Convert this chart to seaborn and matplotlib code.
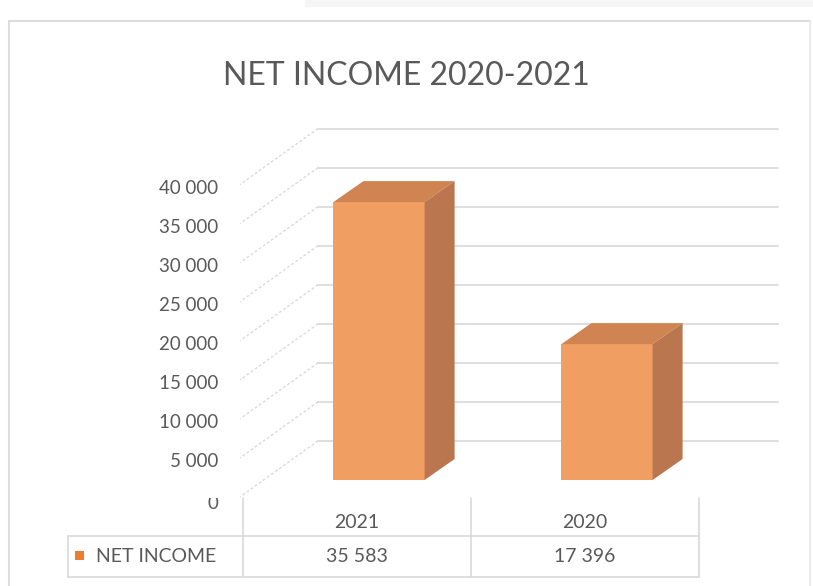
import matplotlib
matplotlib.use("Agg")
import matplotlib.pyplot as plt
from matplotlib.patches import Polygon, Rectangle
from matplotlib.transforms import blended_transform_factory, offset_copy
import seaborn as sns
import pandas as pd

# --- data -------------------------------------------------------------
years = ["2021", "2020"]
net_income = [35583, 17396]
series_name = "NET INCOME"
tick_values = [5000, 10000, 15000, 20000, 25000, 30000, 35000, 40000]
grid_values = [5000, 10000, 15000, 20000, 25000, 30000, 35000, 40000, 45000]
title = "NET INCOME 2020-2021"


def fmt(v):
    return f"{v:,}".replace(",", " ")


# --- style ------------------------------------------------------------
sns.set_theme(style="white")
plt.rcParams["font.family"] = ["Lato", "DejaVu Sans"]

TEXT = "#595959"
LINE = "#D9D9D9"
FRONT = "#F19E63"
TOP = "#CF8452"
SIDE = "#B9764F"
MARKER = "#ED7D31"

W, H = 813, 586
fig = plt.figure(figsize=(W / 100, H / 100), dpi=100)
fig.patch.set_facecolor("white")

# full-figure overlay in pixel units for frame and data table
ov = fig.add_axes([0, 0, 1, 1])
ov.set_xlim(0, W)
ov.set_ylim(H, 0)
ov.axis("off")

# main plotting axes (front face scale)
ax_l, ax_r, ax_t, ax_b = 230, 790, 110, 500
ax = fig.add_axes([ax_l / W, (H - ax_b) / H, (ax_r - ax_l) / W, (ax_b - ax_t) / H])
ax.patch.set_alpha(0)

df = pd.DataFrame({"year": years, "income": net_income})
sns.barplot(data=df, x="year", y="income", order=years, color=FRONT,
            saturation=1, width=0.40, ax=ax, zorder=3, linewidth=0)
ax.set_xlim(-0.6535, 1.8026)
ax.set_ylim(-2561, 47375)
ax.axis("off")

# depth of the 3D effect, in data units
dx, dv = 0.1316, 2689
wall_left, wall_right = -0.2675, 1.75
side_front_x, side_drop = -0.6096, 7170

# back wall gridlines and slanted side-wall lines
for v in grid_values:
    ax.plot([wall_left, wall_right], [v, v], color="#DEDEDE", lw=1.4,
            zorder=1, clip_on=False)
    ax.plot([wall_left, side_front_x], [v, v - side_drop], color="#DADADA",
            lw=1.0, ls=(0, (2, 1.6)), zorder=1, clip_on=False)

# top and side faces of each bar
for bar in ax.patches[:len(years)]:
    x0 = bar.get_x()
    x1 = x0 + bar.get_width()
    h = bar.get_height()
    ax.add_patch(Polygon([(x0, h), (x1, h), (x1 + dx, h + dv), (x0 + dx, h + dv)],
                         closed=True, facecolor=TOP, edgecolor="none", zorder=3))
    ax.add_patch(Polygon([(x1, 0), (x1, h), (x1 + dx, h + dv), (x1 + dx, dv)],
                         closed=True, facecolor=SIDE, edgecolor="none", zorder=3))

# value axis labels
lab_tr = offset_copy(blended_transform_factory(ax.transAxes, ax.transData),
                     fig=fig, y=-21, units="dots")
lab_x = (218 - ax_l) / (ax_r - ax_l)
for v in tick_values:
    ax.text(lab_x, v, fmt(v), transform=lab_tr, ha="right", va="center",
            fontsize=13.5, color=TEXT, clip_on=False)
zero_tr = offset_copy(blended_transform_factory(ax.transAxes, ax.transData),
                      fig=fig, y=-24, units="dots")
zt = ax.text(lab_x, 0, "0", transform=zero_tr, ha="right", va="center",
             fontsize=13.5, color=TEXT, clip_on=True)
zt.set_clip_path(Rectangle((150, 497.5), 90, 30, transform=ov.transData))

# title
ov.text(406, 76, title, ha="center", va="center", fontsize=23, color=TEXT)

# outer frame and top band
ov.add_patch(Rectangle((305, 0), W - 305, 7, facecolor="#F5F5F5", edgecolor="none"))
ov.plot([9, 810], [20.5, 20.5], color="#DDDDDD", lw=1.5)
ov.plot([9, 9], [20.5, H], color="#DDDDDD", lw=1.5)
ov.plot([810, 810], [20.5, H], color="#E8E8E8", lw=1.2)

# data table below the bars
cat_px = [ax.transData.transform((i, 0))[0] for i in range(len(years))]
centers = [c - 22 for c in cat_px]
step = centers[1] - centers[0]
edges = [centers[0] - step / 2] + [c + step / 2 for c in centers]
hdr_top, row_top, row_bot = 498, 536, 577
tbl_left = 68
for e in edges:
    ov.plot([e, e], [hdr_top, row_bot], color=LINE, lw=1.2)
ov.plot([tbl_left, tbl_left], [row_top, row_bot], color=LINE, lw=1.2)
ov.plot([tbl_left, edges[-1]], [row_top, row_top], color=LINE, lw=1.2)
ov.plot([tbl_left, edges[-1]], [row_bot, row_bot], color=LINE, lw=1.2)

for c, yr, val in zip(centers, years, net_income):
    ov.text(c, 522, yr, ha="center", va="center", fontsize=14, color=TEXT)
    ov.text(c, 556, fmt(val), ha="center", va="center", fontsize=14, color=TEXT)

ov.add_patch(Rectangle((74.5, 550.5), 9, 9, facecolor=MARKER, edgecolor="none"))
ov.text(96, 556, series_name, ha="left", va="center", fontsize=14, color=TEXT)

fig.savefig("out.png", dpi=100)
